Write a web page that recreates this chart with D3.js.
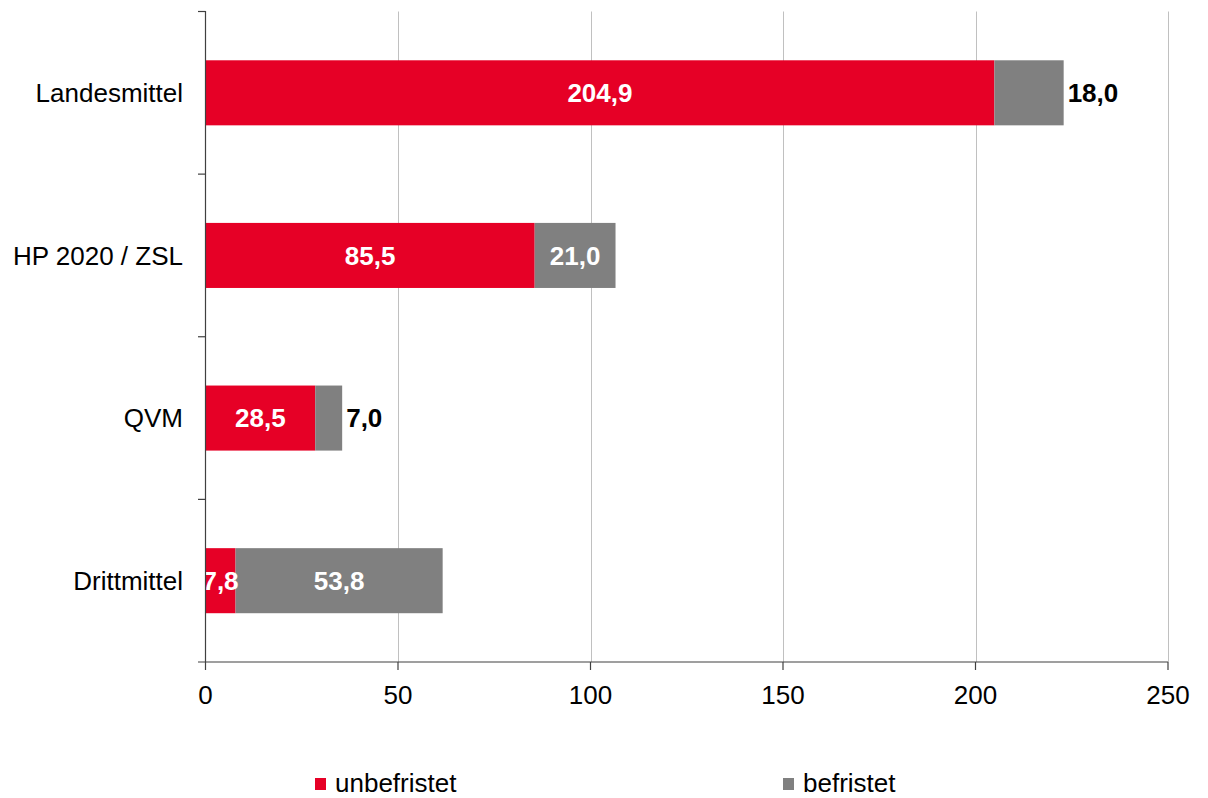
<!DOCTYPE html>
<html><head><meta charset="utf-8">
<script src="https://cdn.jsdelivr.net/npm/d3@7/dist/d3.min.js"></script>
<style>body{margin:0;background:#fff}svg{display:block;font-family:"Liberation Sans",Arial,sans-serif}</style>
</head><body><svg id="c" width="1208" height="798"></svg>
<script>
const categories = ["Landesmittel","HP 2020 / ZSL","QVM","Drittmittel"];
const unbefristet = [204.9, 85.5, 28.5, 7.8];
const befristet = [18.0, 21.0, 7.0, 53.8];
const seriesNames = ["unbefristet","befristet"];
const seriesColors = ["#E60026","#808080"];
const xTicks = [0,50,100,150,200,250];
// label inside segment (white) or outside (black)
const befristetInside = [false, true, false, true];

const FS = 26;
const svg = d3.select("#c");
const x = d3.scaleLinear().domain([0,250]).range([205.5,1168]);
const y = d3.scaleBand().domain(categories).range([11.5,662]).paddingInner(0.6).paddingOuter(0.3);
const fmt = v => d3.format(".1f")(v).replace(".", ",");

// gridlines
svg.append("g").selectAll("line").data(xTicks.slice(1)).join("line")
  .attr("x1", d=>Math.round(x(d))+0.5).attr("x2", d=>Math.round(x(d))+0.5)
  .attr("y1", 11.5).attr("y2", 662).attr("stroke", "#c0c0c0").attr("stroke-width", 1);

// bars
const g = svg.append("g");
categories.forEach((c,i)=>{
  const y0 = y(c), h = y.bandwidth();
  g.append("rect").attr("x", x(0)).attr("y", y0).attr("width", x(unbefristet[i])-x(0)).attr("height", h).attr("fill", seriesColors[0]);
  g.append("rect").attr("x", x(unbefristet[i])).attr("y", y0).attr("width", x(unbefristet[i]+befristet[i])-x(unbefristet[i])).attr("height", h).attr("fill", seriesColors[1]);
  const cy = y0 + h/2;
  g.append("text").attr("x", (x(0)+x(unbefristet[i]))/2).attr("y", cy).attr("dy","0.36em")
    .attr("text-anchor","middle").attr("fill","#fff").attr("font-weight","bold").attr("font-size",FS)
    .text(fmt(unbefristet[i]));
  if (befristetInside[i]) {
    g.append("text").attr("x", (x(unbefristet[i])+x(unbefristet[i]+befristet[i]))/2).attr("y", cy).attr("dy","0.36em")
      .attr("text-anchor","middle").attr("fill","#fff").attr("font-weight","bold").attr("font-size",FS)
      .text(fmt(befristet[i]));
  } else {
    g.append("text").attr("x", x(unbefristet[i]+befristet[i])+4).attr("y", cy).attr("dy","0.36em")
      .attr("text-anchor","start").attr("fill","#000").attr("font-weight","bold").attr("font-size",FS)
      .text(fmt(befristet[i]));
  }
});

// y axis
const ax = svg.append("g").attr("stroke","#404040").attr("stroke-width",1.2);
ax.append("line").attr("x1",205.5).attr("x2",205.5).attr("y1",11).attr("y2",662);
const yTickPos = d3.range(0, categories.length).map(i => 11.5 + i*(662-11.5)/categories.length);
ax.selectAll(".yt").data(yTickPos).join("line").attr("x1",198).attr("x2",205.5).attr("y1",d=>d).attr("y2",d=>d);
// x axis
ax.append("line").attr("x1",198).attr("x2",1168).attr("y1",662).attr("y2",662);
ax.selectAll(".xt").data(xTicks).join("line").attr("x1",d=>x(d)).attr("x2",d=>x(d)).attr("y1",662).attr("y2",670);

svg.append("g").selectAll("text").data(xTicks).join("text")
  .attr("x", d=>x(d)).attr("y", 704).attr("text-anchor","middle").attr("font-size",FS).attr("fill","#000").text(d=>d);
svg.append("g").selectAll("text").data(categories).join("text")
  .attr("x", 183).attr("y", d=>y(d)+y.bandwidth()/2).attr("dy","0.36em").attr("text-anchor","end")
  .attr("font-size",FS).attr("fill","#000").text(d=>d);

// legend
const legX = [315, 783];
const leg = svg.append("g");
seriesNames.forEach((s,i)=>{
  leg.append("rect").attr("x", legX[i]).attr("y", 778).attr("width", 11).attr("height", 12).attr("fill", seriesColors[i]);
  leg.append("text").attr("x", legX[i]+20).attr("y", 792).attr("font-size",26).attr("fill","#000").text(s);
});
</script></body></html>
